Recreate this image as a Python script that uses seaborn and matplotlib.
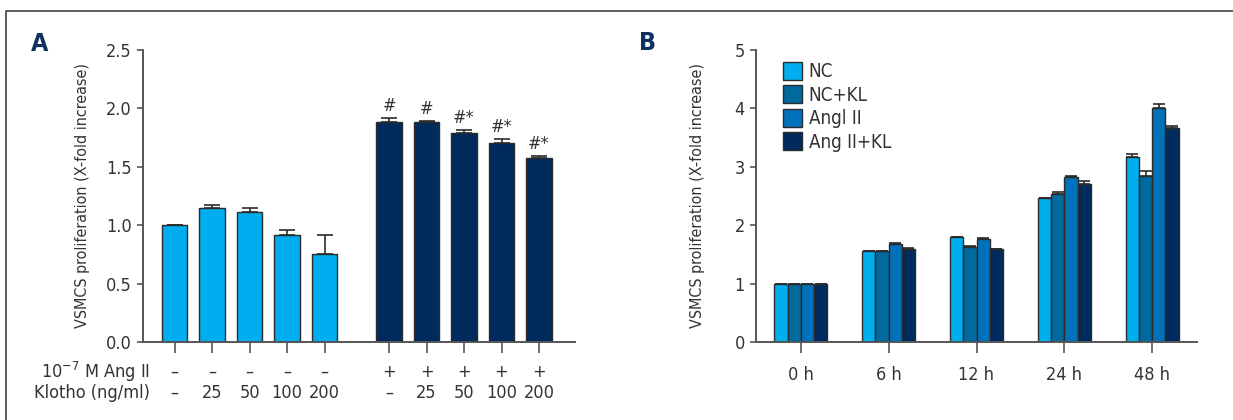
import numpy as np
import pandas as pd
import matplotlib
matplotlib.use("Agg")
import matplotlib.pyplot as plt
import seaborn as sns
from matplotlib import font_manager
from matplotlib.lines import Line2D
from matplotlib.patches import Patch

# ---- panel A data
a_pos = [0, 1, 2, 3, 4, 5.72, 6.72, 7.72, 8.72, 9.72]
a_vals = [1.00, 1.15, 1.11, 0.92, 0.75, 1.88, 1.88, 1.79, 1.70, 1.575]
a_err = [0.0, 0.025, 0.04, 0.035, 0.17, 0.04, 0.012, 0.025, 0.04, 0.02]
a_group = ["ctrl"] * 5 + ["ang"] * 5
a_marks = ["", "", "", "", "", "#", "#", "#*", "#*", "#*"]
a_angii = ["\u2013"] * 5 + ["+"] * 5
a_klotho = ["\u2013", "25", "50", "100", "200", "\u2013", "25", "50", "100", "200"]

# ---- panel B data
b_times = ["0 h", "6 h", "12 h", "24 h", "48 h"]
b_series = ["NC", "NC+KL", "Angl II", "Ang II+KL"]
b_nc = [1.0, 1.55, 1.79, 2.46, 3.16]
b_nckl = [1.0, 1.55, 1.62, 2.54, 2.85]
b_ang = [1.0, 1.68, 1.77, 2.83, 4.01]
b_angkl = [1.0, 1.59, 1.60, 2.70, 3.66]
b_nc_err = [0, 0.012, 0.015, 0.01, 0.06]
b_nckl_err = [0, 0.012, 0.025, 0.035, 0.08]
b_ang_err = [0, 0.015, 0.012, 0.01, 0.06]
b_angkl_err = [0, 0.015, 0.0, 0.055, 0.035]

light = "#00AEEF"
navy = "#002B5C"
b_colors = [light, "#00699E", "#0071BB", navy]
edge = "#2b2b2b"
txt = "#333333"

sns.set_style("ticks")

# look for a condensed face, the original uses a narrow font
narrow = None
for f in font_manager.fontManager.ttflist:
    if f.stretch in ("condensed", "semi-condensed", "extra-condensed", 75, 87.5) \
            and f.weight in (400, "normal", "regular") and f.style == "normal":
        narrow = f
        break
if narrow is not None:
    plt.rcParams['font.family'] = [narrow.name, 'DejaVu Sans']
    plt.rcParams['font.stretch'] = narrow.stretch
    fam = narrow.name
else:
    plt.rcParams['font.family'] = ['Roboto', 'DejaVu Sans']
    fam = 'Roboto'
plt.rcParams['mathtext.fontset'] = 'custom'
plt.rcParams['mathtext.rm'] = fam

fig = plt.figure(figsize=(12.33, 4.2), dpi=100)
W, H = 1233.0, 420.0
axA = fig.add_axes([143 / W, 1 - 342 / H, (575 - 143) / W, 292 / H])
axB = fig.add_axes([756 / W, 1 - 342 / H, (1197 - 756) / W, 292 / H])

def style_axis(ax):
    sns.despine(ax=ax)
    for s in ["left", "bottom"]:
        ax.spines[s].set_color("#555555")
        ax.spines[s].set_linewidth(1.4)
    ax.tick_params(axis="y", length=4, width=1.2, color="#555555",
                   labelsize=13, labelcolor=txt, pad=4)
    ax.tick_params(axis="x", length=8, width=1.2, color="#555555",
                   labelsize=13, labelcolor=txt, pad=9)
    ax.set_xlabel("")

# ---- A
dfA = pd.DataFrame({"x": a_pos, "y": a_vals, "g": a_group})
sns.barplot(data=dfA, x="x", y="y", hue="g", palette={"ctrl": light, "ang": navy},
            dodge=False, native_scale=True, width=0.68, legend=False, saturation=1,
            edgecolor=edge, linewidth=1.0, errorbar=None, ax=axA)
axA.errorbar(a_pos, a_vals, yerr=[np.zeros(len(a_err)), a_err], fmt="none",
             ecolor=edge, elinewidth=1.2, capsize=6, capthick=1.2, zorder=1)
for x, v, e, m in zip(a_pos, a_vals, a_err, a_marks):
    if m:
        axA.text(x, v + e + 0.025, m, ha="center", va="bottom", fontsize=13, color=txt)
axA.set_ylim(0, 2.5)
axA.set_yticks(np.arange(0, 2.51, 0.5))
axA.set_yticklabels([f"{t:.1f}" for t in np.arange(0, 2.51, 0.5)])
axA.set_xlim(-0.845, 9.72 + 0.96)
axA.set_xticks(a_pos)
axA.set_xticklabels([])
style_axis(axA)
axA.set_ylabel("VSMCS proliferation (X-fold increase)", fontsize=11.5, color=txt)
axA.yaxis.set_label_coords(-0.123, 0.5)

# table under A
tr = axA.get_xaxis_transform()
for x, s1, s2 in zip(a_pos, a_angii, a_klotho):
    axA.text(x, -30 / 292, s1, transform=tr, ha="center", va="center", fontsize=13, color=txt)
    axA.text(x, -51 / 292, s2, transform=tr, ha="center", va="center", fontsize=13, color=txt)
fig.text(150 / W, 1 - 372 / H, "10$^{\u22127}$ M Ang II", ha="right", va="center",
         fontsize=13, color=txt)
fig.text(150 / W, 1 - 393 / H, "Klotho (ng/ml)", ha="right", va="center",
         fontsize=13, color=txt)

# ---- B
dfB = pd.DataFrame({
    "time": b_times * 4,
    "val": b_nc + b_nckl + b_ang + b_angkl,
    "err": b_nc_err + b_nckl_err + b_ang_err + b_angkl_err,
    "series": sum([[s] * 5 for s in b_series], []),
})
sns.barplot(data=dfB, x="time", y="val", hue="series", order=b_times,
            hue_order=b_series, palette=b_colors, width=0.6, gap=0, saturation=1,
            edgecolor=edge, linewidth=1.0, errorbar=None, legend=False, ax=axB)
for j, s in enumerate(b_series):
    sub = dfB[dfB.series == s]
    xs = np.arange(5) + (j - 1.5) * 0.15
    axB.errorbar(xs, sub.val, yerr=[np.zeros(5), sub.err], fmt="none",
                 ecolor=edge, elinewidth=1.2, capsize=4, capthick=1.2, zorder=1)
axB.set_ylim(0, 5)
axB.set_yticks(range(6))
axB.set_xlim(-0.51, 4.51)
style_axis(axB)
axB.set_ylabel("VSMCS proliferation (X-fold increase)", fontsize=11.5, color=txt)
axB.yaxis.set_label_coords(-0.116, 0.5)
handles = [Patch(facecolor=c, edgecolor=edge, linewidth=1.0) for c in b_colors]
axB.legend(handles, b_series, loc="upper left", bbox_to_anchor=(0.045, 0.985),
           frameon=False, fontsize=13.5, handlelength=1.0, handleheight=1.1,
           handletextpad=0.35, labelspacing=0.22, borderaxespad=0, labelcolor=txt)

# panel letters and frame
fig.text(40 / W, 1 - 44 / H, "A", fontsize=18, fontweight="bold", color="#0D3160",
         ha="center", va="center", family="DejaVu Sans")
fig.text(648 / W, 1 - 43 / H, "B", fontsize=18, fontweight="bold", color="#0D3160",
         ha="center", va="center", family="DejaVu Sans")
fig.add_artist(Line2D([6 / W, 6 / W, 1.0], [0, 1 - 11 / H, 1 - 11 / H],
                      transform=fig.transFigure, color="#444444", linewidth=1.2))

fig.savefig("out.png", dpi=100)
